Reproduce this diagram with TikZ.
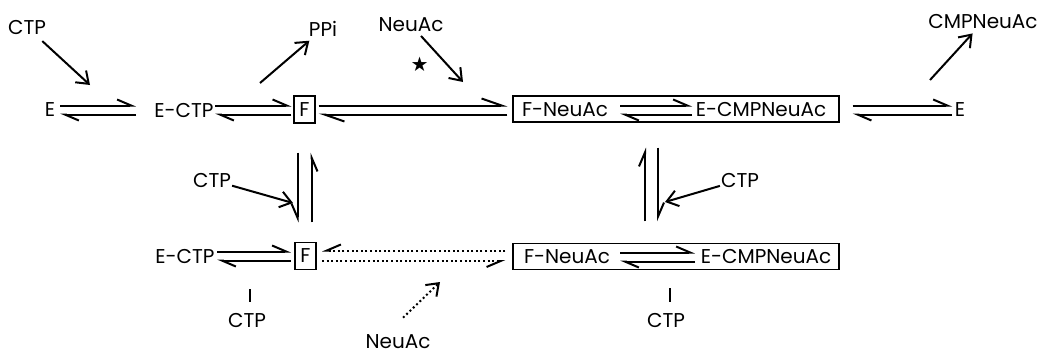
\documentclass[tikz,border=0pt]{standalone}
\usepackage{fontspec}
\setmainfont{Poppins}
\newfontfamily\symfont{DejaVu Sans}
\usetikzlibrary{arrows.meta}
\begin{document}
\begin{tikzpicture}[x=1pt,y=-1pt,
  lbl/.style={inner sep=0pt, font=\fontsize{20}{22}\selectfont},
  fbox/.style={draw, line width=1.1pt, minimum width=21pt, minimum height=27pt, inner sep=0pt, font=\fontsize{20}{22}\selectfont},
  bigbox/.style={draw, line width=1.1pt, minimum width=326pt, minimum height=26pt, inner sep=0pt},
  eq/.style={line width=2pt, -{Straight Barb[harpoon,length=14pt,width=12pt]}},
  eqL/.style={line width=2pt, -{Straight Barb[harpoon,length=20pt,width=14pt]}},
  eqs/.style={line width=2pt, -{Straight Barb[harpoon,swap,length=14pt,width=12pt]}},
  ar/.style={line width=2pt, -{Straight Barb[length=11pt,width=16pt]}},
  dotl/.style={dash pattern=on 2pt off 2.6pt},
  ibar/.style={line width=1.4pt}
]
\useasboundingbox (0,0) rectangle (1040,354);
% ---- top row
\node[lbl] (ctpA) at (27,27) {CTP};
\coordinate (t1) at (90,85);
\node[lbl] (E1) at (50,110) {E};
\node[lbl] (ectp1) at (184,110) {E-CTP};
\node[fbox] (F1) at (304.5,109.5) {F};
\coordinate (t2) at (260,83);
\node[lbl] (ppi) at (323,29) {PPi};
\node[lbl] (neuA) at (411,25) {NeuAc};
\coordinate (t3) at (463,82);
\node[inner sep=0pt, font=\symfont\fontsize{40}{40}\selectfont] (star) at (420,67) {⋆};
\node[bigbox] (B1) at (676,109) {};
\node[lbl] (fn1) at (565,110) {F-NeuAc};
\node[lbl] (ec1) at (761,110) {E-CMPNeuAc};
\node[lbl] (E2) at (960,110) {E};
\node[lbl] (cmp) at (983,22) {CMPNeuAc};
\coordinate (t4) at (930,80);

\draw[eq] ([shift={(10,-4.5)}]E1.center) -- ([shift={(-48,-4.5)}]ectp1.center);
\draw[eq] ([shift={(-48,4.5)}]ectp1.center) -- ([shift={(10,4.5)}]E1.center);
\draw[eq] ([shift={(31,-4.5)}]ectp1.center) -- ([shift={(-2,-4)}]F1.west);
\draw[eq] ([shift={(-2,5)}]F1.west) -- ([shift={(31,4.5)}]ectp1.center);
\draw[eqL] ([shift={(3,-4)}]F1.east) -- ([shift={(-5,-3.5)}]B1.west);
\draw[eqL] ([shift={(-5,5.5)}]B1.west) -- ([shift={(3,5)}]F1.east);
\draw[eq] ([shift={(55,-4.5)}]fn1.center) -- ([shift={(-69,-4.5)}]ec1.center);
\draw[eq] ([shift={(-69,4.5)}]ec1.center) -- ([shift={(55,4.5)}]fn1.center);
\draw[eq] ([shift={(13,-3.5)}]B1.east) -- ([shift={(-8,-4.5)}]E2.center);
\draw[eq] ([shift={(-8,4.5)}]E2.center) -- ([shift={(13,5.5)}]B1.east);

\draw[ar, shorten <=10pt] (ctpA) -- (t1);
\draw[ar, shorten >=6pt] (t2) -- (ppi);
\draw[ar, shorten <=5pt] (neuA) -- (t3);
\draw[ar, shorten >=5.5pt] (t4) -- (cmp);

% ---- middle
\node[lbl] (ctpB) at (212,180) {CTP};
\coordinate (t5) at (293,203);
\draw[ar, shorten <=1pt] (ctpB) -- (t5);
\node[lbl] (ctpC) at (740,180) {CTP};
\coordinate (t6) at (665,202);
\draw[ar, shorten <=1pt] (ctpC) -- (t6);

% ---- bottom row
\node[lbl] (ectp2) at (185,256) {E-CTP};
\node[fbox] (F2) at (305.5,256) {F};
\node[bigbox] (B2) at (676,256.5) {};
\node[lbl] (fn2) at (567,257) {F-NeuAc};
\node[lbl] (ec2) at (766,257) {E-CMPNeuAc};
\node[lbl] (ctpD) at (247,320) {CTP};
\node[lbl] (ctpE) at (666,320) {CTP};
\node[lbl] (neuB) at (398,342) {NeuAc};
\coordinate (t7) at (440,282);

\draw[eq] ([shift={(32,-4.5)}]ectp2.center) -- ([shift={(-3.5,-4.5)}]F2.west);
\draw[eq] ([shift={(-3.5,4.5)}]F2.west) -- ([shift={(32,4.5)}]ectp2.center);
\draw[eqs,dotl] ([shift={(-7,-6)}]B2.west) -- ([shift={(5.5,-5.5)}]F2.east);
\draw[eqs,dotl] ([shift={(5.5,5)}]F2.east) -- ([shift={(-7,4.5)}]B2.west);
\draw[eq] ([shift={(53,-4.5)}]fn2.center) -- ([shift={(-71,-4.5)}]ec2.center);
\draw[eq] ([shift={(-71,4.5)}]ec2.center) -- ([shift={(53,4.5)}]fn2.center);

% ---- verticals
\draw[eqs] ([shift={(-7,29)}]F1.south) -- ([shift={(-8,-19.5)}]F2.north);
\draw[eqs] ([shift={(6,-19.5)}]F2.north) -- ([shift={(7,29)}]F1.south);
\draw[eq] ([shift={(-31,-21.5)}]B2.north) -- ([shift={(-31,25)}]B1.south);
\draw[eq] ([shift={(-18,25)}]B1.south) -- ([shift={(-18,-21.5)}]B2.north);

% ---- inhibition bars
\draw[ibar] ([shift={(3,-11)}]ctpD.north) -- ([shift={(3,-24)}]ctpD.north);
\draw[ibar] ([shift={(4,-11)}]ctpE.north) -- ([shift={(4,-25)}]ctpE.north);

\draw[ar,dotl] ([shift={(5,-17)}]neuB.north) -- (t7);
\end{tikzpicture}
\end{document}
